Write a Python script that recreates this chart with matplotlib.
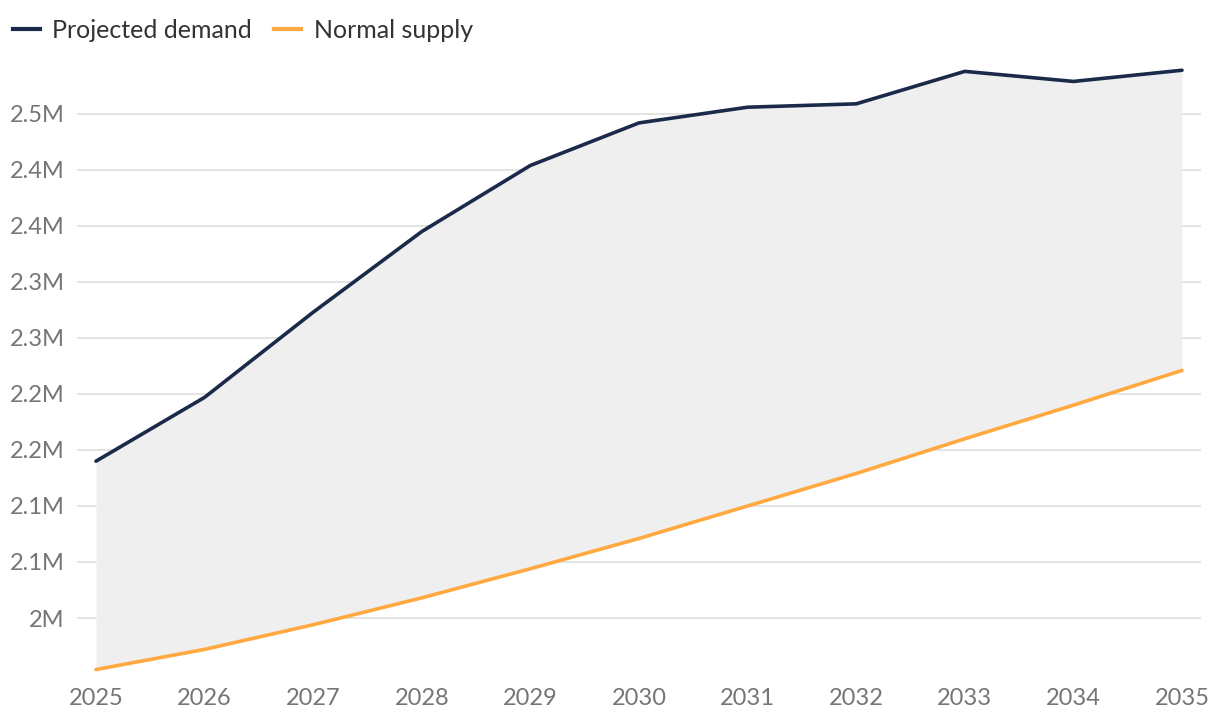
import matplotlib
matplotlib.use("Agg")
import matplotlib.pyplot as plt
from matplotlib.lines import Line2D

plt.rcParams['font.family'] = ['Lato', 'DejaVu Sans']

years = [2025, 2026, 2027, 2028, 2029, 2030, 2031, 2032, 2033, 2034, 2035]
demand = [2.140, 2.197, 2.273, 2.345, 2.404, 2.442, 2.456, 2.459, 2.488, 2.479, 2.489]
supply = [1.954, 1.972, 1.994, 2.018, 2.044, 2.071, 2.100, 2.129, 2.160, 2.190, 2.221]
ytick_vals = [2.00, 2.05, 2.10, 2.15, 2.20, 2.25, 2.30, 2.35, 2.40, 2.45]
ytick_labels = ["2M", "2.1M", "2.1M", "2.2M", "2.2M", "2.3M", "2.3M", "2.4M", "2.4M", "2.5M"]
series_names = ["Projected demand", "Normal supply"]

W, H = 1220, 724
fig = plt.figure(figsize=(W / 100, H / 100), dpi=100)
left, right, top, bottom = 77, 1201, 68, 672
ax = fig.add_axes([left / W, 1 - bottom / H, (right - left) / W, (bottom - top) / H])

navy = "#1b2a4a"
orange = "#ffa940"

ax.fill_between(years, supply, demand, color="#efefef", zorder=1, linewidth=0)
ax.plot(years, demand, color=navy, lw=2.6, zorder=3, clip_on=False, solid_capstyle="round")
ax.plot(years, supply, color=orange, lw=2.6, zorder=3, clip_on=False, solid_capstyle="round")

step = (1182 - 96) / 10
pad = (96 - left) / step
ax.set_xlim(years[0] - pad, years[-1] + pad)
ax.set_ylim(1.9518, 2.491)

ax.set_yticks(ytick_vals)
ax.set_yticklabels(ytick_labels)
ax.set_xticks(years)
ax.set_xticklabels([str(y) for y in years])
ax.grid(axis="y", color="#e0e0e0", lw=1.3, zorder=0)
ax.set_axisbelow(True)
for s in ax.spines.values():
    s.set_visible(False)
ax.tick_params(axis="both", length=0, labelsize=17, labelcolor="#757575")
ax.tick_params(axis="y", pad=9)
ax.tick_params(axis="x", pad=11.5)

handles = [Line2D([0], [0], color=navy, lw=3), Line2D([0], [0], color=orange, lw=3)]
fig.legend(handles, series_names, loc="center left", bbox_to_anchor=(5 / W, 1 - 30 / H),
           ncol=2, frameon=False, fontsize=18, labelcolor="#333333",
           handlelength=1.1, handletextpad=0.5, columnspacing=0.85, borderaxespad=0.0,
           borderpad=0.3)

fig.savefig("out.png", dpi=100)
